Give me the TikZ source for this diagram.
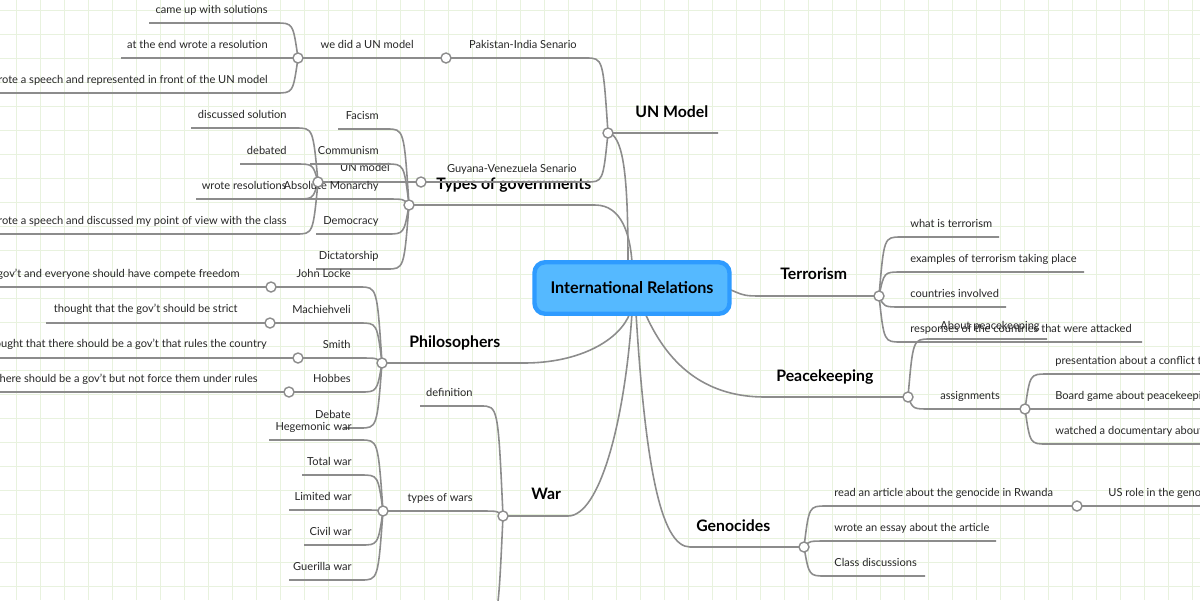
\documentclass[tikz,border=0pt]{standalone}
\usepackage{fontspec}
\setmainfont{Lato}
\definecolor{gridc}{HTML}{E8F2DE}
\definecolor{linec}{HTML}{8C8C8C}
\definecolor{boxfill}{HTML}{55B9FF}
\definecolor{boxdraw}{HTML}{2E9BFF}
\tikzset{
 br/.style={draw=linec,line width=0.9pt},
 lt/.style={inner sep=0pt,font=\fontsize{6.3}{7}\selectfont,text=black!85},
 bt/.style={inner sep=0pt,font=\fontsize{9}{10}\selectfont\bfseries,text=black},
 knot/.style={circle,draw=linec,fill=white,line width=0.8pt,minimum size=0.2cm,inner sep=0pt}
}
\newcommand\LL[6]{\draw[br] (#1,#2) .. controls (#1-5,#3) .. (#1-22,#3) -- (#4,#3);
 \node[lt,anchor=base east] at (#5,#3-10) {#6};}
\newcommand\RL[6]{\draw[br] (#1,#2) .. controls (#1+5,#3) .. (#1+22,#3) -- (#4,#3);
 \node[lt,anchor=base west] at (#5,#3-10) {#6};}
\begin{document}
\begin{tikzpicture}[x=0.02cm,y=-0.02cm]
\useasboundingbox (0,0) rectangle (1200,600);
\clip (0,0) rectangle (1200,600);
\fill[white] (0,0) rectangle (1200,600);
\foreach \i in {0,...,50} \draw[gridc,line width=0.5pt] (16+24*\i,0) -- (16+24*\i,600);
\foreach \j in {0,...,25} \draw[gridc,line width=0.5pt] (0,10+24*\j) -- (1200,10+24*\j);

% ---- main branches
\draw[br] (628,262) .. controls (628,180) and (624,140) .. (610,133) -- (718,133);
\node[bt,anchor=base west] at (635,117) {UN Model};
\draw[br] (409,205) -- (595,205) .. controls (622,205) and (630,235) .. (632,262);
\node[bt,anchor=base west] at (436,189) {Types of governments};
\draw[br] (382,363) -- (524,363) .. controls (580,363) and (620,340) .. (630,313);
\node[bt,anchor=base west] at (409,347) {Philosophers};
\draw[br] (503,516) -- (568,516) .. controls (600,516) and (625,420) .. (632,313);
\node[bt,anchor=base west] at (531,499) {War};
\draw[br] (731,290) .. controls (745,296) .. (765,296) -- (879,296);
\node[bt,anchor=base west] at (780,279) {Terrorism};
\draw[br] (645,313) .. controls (670,370) and (710,397) .. (765,397) -- (908,397);
\node[bt,anchor=base west] at (776,381) {Peacekeeping};
\draw[br] (636,313) .. controls (645,460) and (660,547) .. (690,547) -- (804,547);
\node[bt,anchor=base west] at (696,531) {Genocides};

% ---- UN Model
\LL{608}{133}{58}{446}{577}{Pakistan-India Senario}
\LL{608}{133}{182}{421}{577}{Guyana-Venezuela Senario}
\draw[br] (446,58) -- (298,58);
\node[lt,anchor=base east] at (414,48) {we did a UN model};
\LL{298}{58}{23}{149}{268}{came up with solutions}
\LL{298}{58}{58}{121}{268}{at the end wrote a resolution}
\LL{298}{58}{93}{-5}{268}{wrote a speech and represented in front of the UN model}
\draw[br] (421,182) -- (318,182);
\node[lt,anchor=base east] at (390,171) {UN model};
\LL{318}{182}{128}{191}{287}{discussed solution}
\LL{318}{182}{164}{240}{287}{debated}
\LL{318}{182}{199}{196}{287}{wrote resolutions}
\LL{318}{182}{234}{-5}{287}{wrote a speech and discussed my point of view with the class}

% ---- Types of governments
\LL{409}{205}{129}{338}{379}{Facism}
\LL{409}{205}{164}{310}{379}{Communism}
\LL{409}{205}{199}{277}{379}{Absolute Monarchy}
\LL{409}{205}{234}{316}{379}{Democracy}
\LL{409}{205}{269}{316}{379}{Dictatorship}

% ---- Philosophers
\LL{382}{363}{287}{271}{351}{John Locke}
\LL{382}{363}{323}{270}{351}{Machiehveli}
\LL{382}{363}{358}{298}{351}{Smith}
\LL{382}{363}{392}{289}{351}{Hobbes}
\LL{382}{363}{428}{344}{351}{Debate}
\draw[br] (271,287) -- (-5,287);
\node[lt,anchor=base east] at (240,277) {thought that there shouldn't be a gov't and everyone should have compete freedom};
\draw[br] (270,323) -- (46,323);
\node[lt,anchor=base east] at (238,312) {thought that the gov't should be strict};
\draw[br] (298,358) -- (-5,358);
\node[lt,anchor=base east] at (267,347) {thought that there should be a gov't that rules the country};
\draw[br] (289,392) -- (-5,392);
\node[lt,anchor=base east] at (258,382) {thought that there should be a gov't but not force them under rules};

% ---- War
\LL{503}{516}{406}{420}{473}{definition}
\LL{503}{516}{511}{383}{473}{types of wars}
\LL{503}{516}{625}{230}{473}{International humanitarian law:the essential rules}
\LL{383}{511}{440}{269}{352}{Hegemonic war}
\LL{383}{511}{475}{302}{352}{Total war}
\LL{383}{511}{510}{289}{352}{Limited war}
\LL{383}{511}{545}{304}{352}{Civil war}
\LL{383}{511}{580}{289}{352}{Guerilla war}

% ---- Terrorism
\RL{879}{296}{237}{999}{910}{what is terrorism}
\RL{879}{296}{272}{1084}{910}{examples of terrorism taking place}
\RL{879}{296}{307}{1006}{910}{countries involved}
\RL{879}{296}{342}{1142}{910}{responses of the countries that were attacked}

% ---- Peacekeeping
\RL{908}{397}{339}{1047}{940}{About peacekeeping}
\RL{908}{397}{409}{1025}{940}{assignments}
\RL{1025}{409}{374}{1210}{1055}{presentation about a conflict that happened}
\RL{1025}{409}{409}{1210}{1055}{Board game about peacekeeping}
\RL{1025}{409}{444}{1210}{1055}{watched a documentary about peacekeeping}

% ---- Genocides
\RL{804}{547}{506}{1077}{834}{read an article about the genocide in Rwanda}
\RL{804}{547}{541}{996}{834}{wrote an essay about the article}
\RL{804}{547}{576}{925}{834}{Class discussions}
\draw[br] (1077,506) -- (1210,506);
\node[lt,anchor=base west] at (1108,496) {US role in the genocide};

% ---- knots
\foreach \n/\p in {kun/{608,133},kpi/{446,58},kwe/{298,58},kgv/{421,182},kum/{318,182},
 ktg/{409,205},kph/{382,363},kjl/{271,287},kma/{270,323},ksm/{298,358},kho/{289,392},
 kwa/{503,516},ktw/{383,511},kte/{879,296},kpe/{908,397},kas/{1025,409},kge/{804,547},kra/{1077,506}}
 \node[knot] (\n) at (\p) {};

% ---- center
\node[draw=boxdraw,fill=boxfill,line width=2.5pt,rounded corners=6pt,minimum width=3.9cm,minimum height=1.03cm,
 font=\fontsize{9.2}{10}\selectfont\bfseries] (center) at (632,288) {International Relations};
\end{tikzpicture}
\end{document}
